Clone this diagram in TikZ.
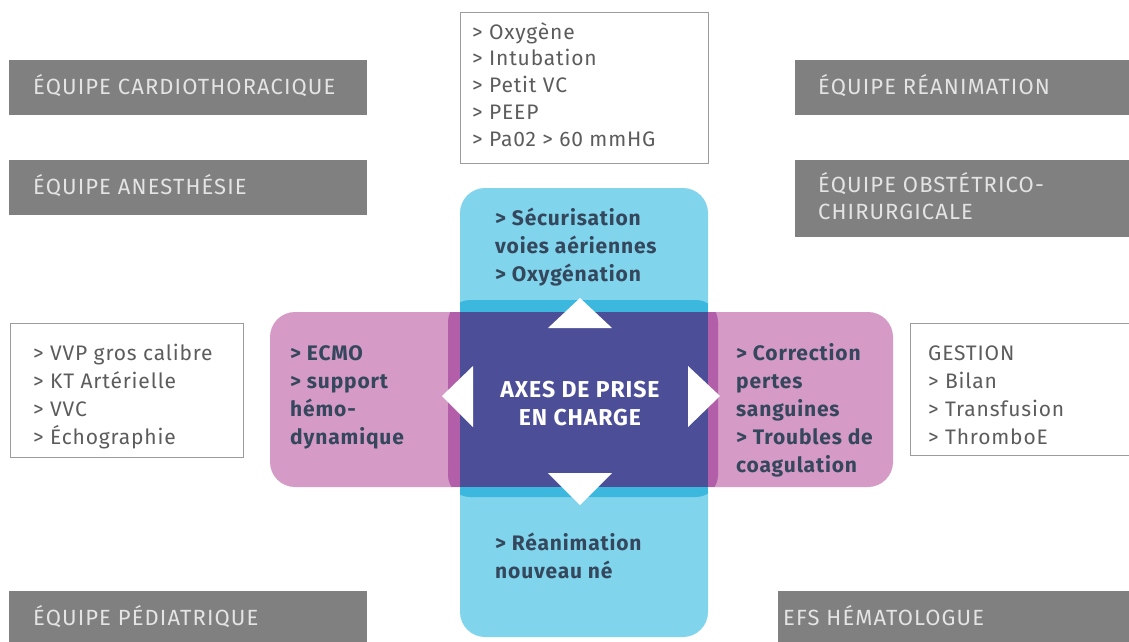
\documentclass[tikz,border=0pt]{standalone}
\usepackage{fontspec}
\setmainfont{Fira Sans}
\newfontfamily\teamfont[LetterSpace=5]{Fira Sans}
\newfontfamily\listfont[LetterSpace=4]{Fira Sans}
\definecolor{teamgray}{HTML}{808080}
\definecolor{teamtext}{HTML}{E4E4E4}
\definecolor{frame}{HTML}{9C9C9C}
\definecolor{listtext}{HTML}{5C5C5C}
\definecolor{cyanbar}{HTML}{80D4EC}
\definecolor{cyanmid}{HTML}{3CB8DE}
\definecolor{pinkbar}{HTML}{D69AC6}
\definecolor{pinkdark}{HTML}{B25EA8}
\definecolor{core}{HTML}{4C4F98}
\definecolor{axistext}{HTML}{34475C}
\tikzset{
  team/.style={anchor=base west, inner sep=0, text=teamtext, align=left,
    font=\teamfont\fontsize{22}{27}\selectfont},
  list/.style={anchor=base west, inner sep=0, text=listtext, align=left,
    font=\listfont\fontsize{21}{28}\selectfont},
  axis/.style={anchor=base west, inner sep=0, text=axistext, align=left,
    font=\listfont\bfseries\fontsize{21}{28}\selectfont},
  listframe/.style={draw=frame, fill=white, line width=.6pt}
}
\begin{document}
\begin{tikzpicture}[x=1pt,y=-1pt]
  \useasboundingbox (0,0) rectangle (1129,641);
  \clip (0,0) rectangle (1129,641);

  % teams
  \fill[teamgray] (9,60) rectangle (367,115);
  \fill[teamgray] (9,160) rectangle (367,215);
  \fill[teamgray] (795,60) rectangle (1140,115);
  \fill[teamgray] (795,160) rectangle (1140,237);
  \fill[teamgray] (9,591) rectangle (367,650);
  \fill[teamgray] (778,591) rectangle (1140,650);
  \node[team] (cardio) at (33,94) {ÉQUIPE CARDIOTHORACIQUE};
  \node[team] (anesth) at (33,194) {ÉQUIPE ANESTHÉSIE};
  \node[team] (reanim) at (818,94) {ÉQUIPE RÉANIMATION};
  \node[team] (obst) at (818,219) {ÉQUIPE OBSTÉTRICO-\\CHIRURGICALE};
  \node[team] (pedia) at (33,625) {ÉQUIPE PÉDIATRIQUE};
  \node[team] (efs) at (783,625) {EFS HÉMATOLOGUE};

  % lists (base = last line)
  \draw[listframe] (460,12) rectangle (708,163);
  \draw[listframe] (10,323) rectangle (243,457);
  \draw[listframe] (910,323) rectangle (1140,455);
  \node[list, font=\listfont\fontsize{21}{26.7}\selectfont] (airway) at (472,146) {> Oxygène\\> Intubation\\> Petit VC\\> PEEP\\> Pa02 > 60 mmHG};
  \node[list] (access) at (33,444) {> VVP gros calibre\\> KT Artérielle\\> VVC\\> Échographie};
  \node[list] (gestion) at (928,444) {GESTION\\> Bilan\\> Transfusion\\> ThromboE};

  % cross
  \fill[cyanbar, rounded corners=25] (460,188) rectangle (708,637);
  \fill[pinkbar, rounded corners=25] (270,312) rectangle (893,487);
  \begin{scope}
    \clip[rounded corners=22] (448,300) rectangle (718,497);
    \fill[cyanmid] (460,188) rectangle (708,637);
    \fill[pinkdark] (270,312) rectangle (893,487);
    \fill[core] (460,312) rectangle (708,487);
  \end{scope}
  \fill[white] (580,298) -- (548,328) -- (612,328) -- cycle;
  \fill[white] (580,505) -- (548,473) -- (612,473) -- cycle;
  \fill[white] (442,396) -- (473,366) -- (473,427) -- cycle;
  \fill[white] (720,396) -- (688,366) -- (688,427) -- cycle;

  \node[axis] (top) at (495,281) {> Sécurisation\\voies aériennes\\> Oxygénation};
  \node[axis] (bottom) at (495,578) {> Réanimation\\nouveau né};
  \node[axis] (left) at (290,444) {> ECMO\\> support\\hémo-\\dynamique};
  \node[axis] (right) at (736,472) {> Correction\\pertes\\sanguines\\> Troubles de\\coagulation};
  \node[text=white, align=center, font=\listfont\bfseries\fontsize{23}{28}\selectfont] (centre) at (580,404) {AXES DE PRISE\\EN CHARGE};
\end{tikzpicture}
\end{document}
